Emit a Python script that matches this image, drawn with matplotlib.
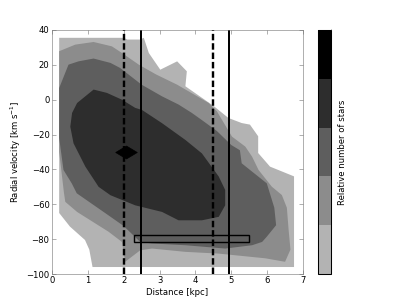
import matplotlib
matplotlib.use("Agg")
import matplotlib.pyplot as plt
from matplotlib.colors import ListedColormap, BoundaryNorm
from matplotlib.cm import ScalarMappable
from matplotlib.patches import Rectangle

# contour outlines (distance kpc, velocity km/s)
lev1_x = [0.2, 2.0, 2.1, 2.45, 2.56, 2.7, 3.02, 3.49, 3.76, 3.72, 4.5, 4.92, 5.29, 5.52,
          5.75, 5.75, 6.08, 6.75, 6.75, 1.13, 1.04, 0.92, 0.5, 0.2]
lev1_y = [35.5, 35.5, 34.5, 34.5, 35.5, 26.8, 17.2, 22.0, 16.3, 7.7, -3.5, -10.5, -13.4, -14.3,
          -21.0, -30.6, -38.4, -44.0, -96.0, -96.0, -86.0, -80.5, -72.8, -65.0]

lev2_x = [0.2, 0.65, 1.16, 1.67, 1.95, 2.42, 2.9, 3.49, 4.37, 4.6, 5.02, 5.39, 5.58, 5.76,
          6.13, 6.41, 6.55, 6.6, 6.65, 6.5, 5.95, 4.65, 3.72, 2.79, 2.46, 2.04, 1.95, 1.58,
          0.7, 0.37, 0.33, 0.2]
lev2_y = [27.8, 31.6, 33.1, 30.6, 26.8, 20.1, 14.5, 8.6, -1.9, -6.7, -21.2, -26.9, -32.7, -40.3,
          -49.9, -54.7, -62.0, -75.0, -86.0, -93.0, -91.0, -88.3, -87.3, -85.4, -86.4, -93.0, -81.6, -75.8,
          -64.4, -58.6, -52.9, -30.0]

lev3_x = [0.2, 0.46, 0.74, 1.16, 1.63, 1.9, 2.5, 3.07, 3.53, 3.9, 4.2, 4.6, 5.0, 5.24,
          5.29, 5.99, 6.2, 6.25, 5.99, 5.86, 5.58, 4.83, 3.72, 2.79, 2.46, 2.0, 1.62, 0.69,
          0.55, 0.32, 0.2]
lev3_y = [6.7, 20.1, 22.0, 23.6, 21.1, 18.2, 8.6, 1.9, -2.8, -7.6, -12.0, -18.0, -26.0, -29.0,
          -36.5, -48.0, -62.0, -72.0, -78.6, -81.6, -83.5, -85.4, -83.5, -82.5, -81.6, -72.5, -67.0, -53.7,
          -48.0, -40.3, -22.0]

lev4_x = [0.56, 0.7, 1.16, 1.53, 1.95, 2.32, 2.51, 3.07, 3.72, 4.18, 4.65, 4.83, 4.83, 4.65,
          4.18, 3.53, 3.07, 2.32, 1.63, 1.3, 0.93, 0.6, 0.51]
lev4_y = [-7.6, -1.9, 5.8, 3.9, 0.0, -4.7, -5.9, -13.5, -23.1, -30.8, -44.1, -51.8, -60.6, -67.2,
          -69.2, -69.2, -64.4, -60.6, -54.8, -50.0, -38.4, -25.0, -15.5]

levels = [lev1_x, lev2_x, lev3_x, lev4_x]
levels_y = [lev1_y, lev2_y, lev3_y, lev4_y]
shades = ['#b3b3b3', '#8c8c8c', '#5e5e5e', '#2d2d2d', '#000000']

dashed_x = [2.0, 4.5]
solid_x = [2.48, 4.95]
box_x = [2.28, 5.5]
box_y = [-81.5, -77.5]
point_x = [2.07]
point_y = [-30.0]

fig = plt.figure(figsize=(8, 6.03), dpi=50.75)
ax = fig.add_axes([0.1281, 0.1046, 0.6182, 0.7974])
cax = fig.add_axes([0.7833, 0.1046, 0.032, 0.7974])

for xs, ys, c in zip(levels, levels_y, shades):
    ax.fill(xs, ys, color=c, lw=0)

for x in dashed_x:
    ax.axvline(x, color='k', lw=3.4, ls=(0, (2.7, 1.2)))
for x in solid_x:
    ax.axvline(x, color='k', lw=2.8)

ax.add_patch(Rectangle((box_x[0], box_y[0]), box_x[1] - box_x[0], box_y[1] - box_y[0],
                       fill=False, ec='k', lw=2.0))

diamond = [(-1, 0), (0, 0.6), (1, 0), (0, -0.6), (-1, 0)]
ax.plot(point_x, point_y, marker=diamond, ms=30.5, color='k', ls='none')

ax.set_xlim(0, 7)
ax.set_ylim(-100, 40)
ax.set_xticks(range(0, 8))
ax.set_yticks(range(-100, 41, 20))
ax.tick_params(direction='in', top=True, right=True, length=5, color='0.45', labelsize=12)
for s in ax.spines.values():
    s.set_color('0.45')
ax.set_xlabel('Distance [kpc]', fontsize=12)
ax.set_ylabel('Radial velocity [km s$^{-1}$]', fontsize=12)

# colour bar: lightest band at the bottom, black at the top
cmap = ListedColormap(shades)
norm = BoundaryNorm([0, 1, 2, 3, 4, 5], cmap.N)
cb = fig.colorbar(ScalarMappable(norm=norm, cmap=cmap), cax=cax, ticks=[])
cb.outline.set_linewidth(1.5)
cb.set_label('Relative number of stars', fontsize=12)

fig.savefig('out.png', dpi=50.75)
